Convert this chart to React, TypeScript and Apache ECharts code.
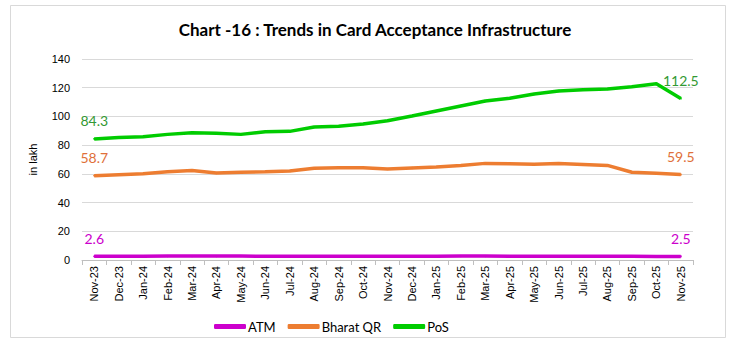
import React, { useEffect, useRef } from "react";
import * as echarts from "echarts";

const categories = ["Nov-23","Dec-23","Jan-24","Feb-24","Mar-24","Apr-24","May-24","Jun-24","Jul-24","Aug-24","Sep-24","Oct-24","Nov-24","Dec-24","Jan-25","Feb-25","Mar-25","Apr-25","May-25","Jun-25","Jul-25","Aug-25","Sep-25","Oct-25","Nov-25"];
const atm = [2.6,2.6,2.6,2.7,2.7,2.7,2.7,2.6,2.6,2.6,2.6,2.6,2.6,2.6,2.6,2.7,2.7,2.6,2.6,2.6,2.6,2.6,2.6,2.5,2.5];
const bharatQR = [58.7,59.4,60.1,61.5,62.4,60.6,61.1,61.5,62.0,63.9,64.3,64.3,63.4,64.1,64.8,65.9,67.3,67.0,66.7,67.2,66.6,65.9,61.1,60.4,59.5];
const pos = [84.3,85.4,85.9,87.5,88.7,88.2,87.5,89.4,89.6,92.6,93.1,94.7,97.0,100.3,103.8,107.3,110.7,112.6,115.6,117.7,118.6,119.1,120.7,122.8,112.5];
const yTicks = { min: 0, max: 140, interval: 20 };

const FONT = "Lato";

export default function App() {
  const ref = useRef<HTMLDivElement>(null);
  useEffect(() => {
    const chart = echarts.init(ref.current!, null, { renderer: "svg" });
    const last = categories.length - 1;
    const mk = (name: string, values: number[], color: string, labelColor: string) => ({
      name,
      type: "line",
      data: values,
      symbol: "circle",
      symbolSize: 2,
      showSymbol: true,
      showAllSymbol: true,
      lineStyle: { color, width: 3.5 },
      itemStyle: { color },
      labelLayout: { hideOverlap: false },
      label: {
        show: true,
        position: "top",
        distance: 10,
        color: labelColor,
        fontFamily: FONT,
        fontSize: 14,
        formatter: (p: any) => (p.dataIndex === 0 || p.dataIndex === last ? String(p.value) : ""),
      },
    });
    chart.setOption({
      animation: false,
      backgroundColor: "#ffffff",
      title: {
        text: "Chart -16 : Trends in Card Acceptance Infrastructure",
        left: 370,
        textAlign: "center",
        top: 16,
        textStyle: { fontFamily: FONT, fontWeight: "bold", fontSize: 17, color: "#000" },
      },
      graphic: [
        {
          type: "rect",
          shape: { x: 10.5, y: 5.5, width: 715, height: 332 },
          style: { fill: "none", stroke: "#d9d9d9", lineWidth: 1 },
          silent: true,
        },
      ],
      legend: {
        top: 315,
        left: 209,
        itemWidth: 32,
        itemHeight: 5,
        itemGap: 12,
        icon: "roundRect",
        textStyle: { fontFamily: FONT, fontSize: 13, color: "#000", padding: [0, 0, 0, -3] },
        data: ["ATM", "Bharat QR", "PoS"],
      },
      grid: { left: 82, right: 50, top: 59, bottom: 87 },
      xAxis: {
        type: "category",
        data: categories,
        boundaryGap: true,
        axisLine: { lineStyle: { color: "#bfbfbf" } },
        axisTick: { show: true, interval: 0, length: 5, lineStyle: { color: "#bfbfbf" } },
        axisLabel: {
          interval: 0,
          rotate: 90,
          fontFamily: "Liberation Sans",
          fontSize: 11,
          color: "#000",
          margin: 6,
        },
      },
      yAxis: {
        type: "value",
        min: yTicks.min,
        max: yTicks.max,
        interval: yTicks.interval,
        name: "in lakh",
        nameLocation: "middle",
        nameGap: 44,
        nameRotate: 90,
        nameTextStyle: { fontFamily: "Liberation Sans", fontSize: 11, color: "#000" },
        axisLine: { show: false },
        axisTick: { show: false },
        splitLine: { lineStyle: { color: "#d9d9d9" } },
        axisLabel: { fontFamily: "Liberation Sans", fontSize: 11, color: "#000", margin: 12 },
      },
      series: [
        mk("ATM", atm, "#cc00cc", "#cc00cc"),
        mk("Bharat QR", bharatQR, "#ed7d31", "#e0703a"),
        mk("PoS", pos, "#00cc00", "#339933"),
      ],
    });
    return () => chart.dispose();
  }, []);
  return <div ref={ref} style={{ position: "fixed", left: 0, top: 0, width: 743, height: 347 }} />;
}
